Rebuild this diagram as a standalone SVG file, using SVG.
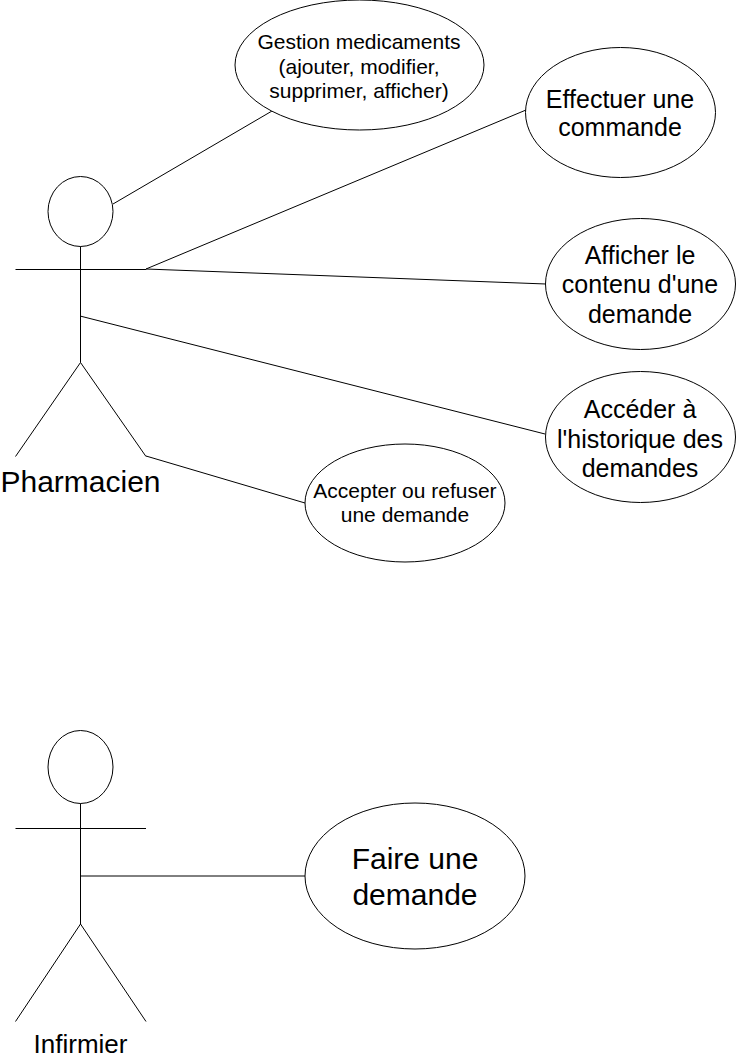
<svg xmlns="http://www.w3.org/2000/svg" width="736" height="1058" viewBox="0 0 736 1058">
<style>
.s{fill:#fff;stroke:#000;stroke-width:1}
.l{fill:none;stroke:#000;stroke-width:1}
text{font-family:"Liberation Sans",Arial,sans-serif;fill:#000;text-anchor:middle}
</style>
<rect width="736" height="1058" fill="#fff"/>
<g id="connectors">
<path class="l" d="M113 204L272 111"/>
<path class="l" d="M146 269L526 110"/>
<path class="l" d="M146 269L546 284"/>
<path class="l" d="M80 316L545 434"/>
<path class="l" d="M146 456L305 503"/>
<path class="l" d="M80 876H305"/>
</g>
<g id="pharmacien">
<ellipse class="s" cx="80.500" cy="211.500" rx="32.500" ry="35"/>
<path class="l" d="M80.500 246.500V362.500M15.500 269.500H146M80.500 362.500L15.500 456.500M80.500 362.500L146 456.500"/>
<text x="80.500" y="492" font-size="30">Pharmacien</text>
</g>
<g id="infirmier">
<ellipse class="s" cx="80.500" cy="767" rx="32.500" ry="36.500"/>
<path class="l" d="M80.500 803.500V924M15.500 828.500H146M80.500 924L15.500 1021.500M80.500 924L146 1021.500"/>
<text x="80.500" y="1053" font-size="26">Infirmier</text>
</g>
<g id="gestion">
<ellipse class="s" cx="359.500" cy="65" rx="124.500" ry="65"/>
<text font-size="21"><tspan x="359" y="49">Gestion medicaments</tspan><tspan x="359" y="74">(ajouter, modifier,</tspan><tspan x="359" y="98">supprimer, afficher)</tspan></text>
</g>
<g id="effectuer">
<ellipse class="s" cx="620.500" cy="112.500" rx="95" ry="65"/>
<text font-size="25"><tspan x="620" y="108">Effectuer une</tspan><tspan x="620" y="136">commande</tspan></text>
</g>
<g id="afficher">
<ellipse class="s" cx="640.500" cy="284" rx="95" ry="65.500"/>
<text font-size="25"><tspan x="640" y="264">Afficher le</tspan><tspan x="640" y="293">contenu d'une</tspan><tspan x="640" y="323">demande</tspan></text>
</g>
<g id="historique">
<ellipse class="s" cx="640.500" cy="437" rx="95" ry="65.500"/>
<text font-size="25"><tspan x="640" y="418">Accéder à</tspan><tspan x="640" y="448">l'historique des</tspan><tspan x="640" y="477">demandes</tspan></text>
</g>
<g id="accepter">
<ellipse class="s" cx="405" cy="503" rx="100" ry="59"/>
<text font-size="21"><tspan x="405" y="498">Accepter ou refuser</tspan><tspan x="405" y="522">une demande</tspan></text>
</g>
<g id="faire">
<ellipse class="s" cx="415" cy="876" rx="110" ry="73"/>
<text font-size="30"><tspan x="415" y="869">Faire une</tspan><tspan x="415" y="905">demande</tspan></text>
</g>
</svg>
